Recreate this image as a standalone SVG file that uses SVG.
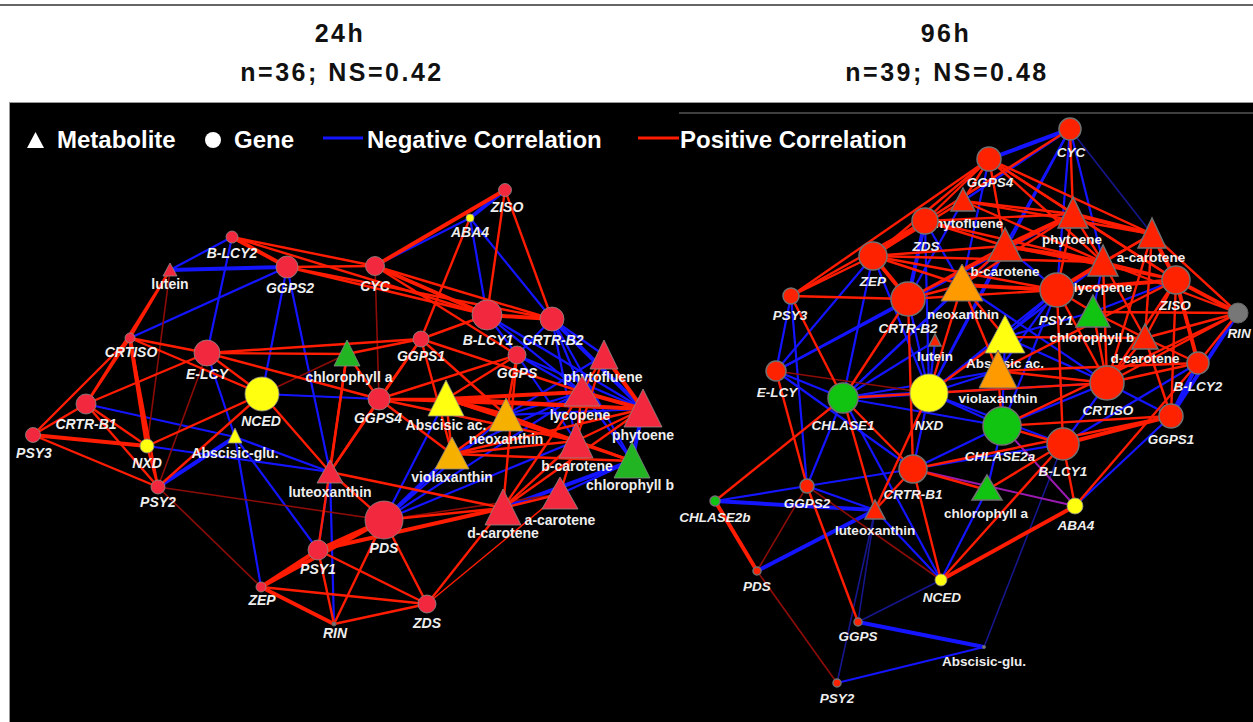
<svg xmlns="http://www.w3.org/2000/svg" width="1253" height="722" viewBox="0 0 1253 722">
<style>
.hd{font-family:"Liberation Sans",Arial,sans-serif;font-weight:bold;font-size:25px;fill:#111;text-anchor:middle}
.lgd{font-family:"Liberation Sans",Arial,sans-serif;font-weight:bold;font-size:24px;fill:#fff}
.p{stroke:#ff1c00;stroke-width:2.4;fill:none}
.pt{stroke:#ff1c00;stroke-width:4;fill:none}
.pw{stroke:#8c0c08;stroke-width:1.6;fill:none}
.n{stroke:#1414ff;stroke-width:2.2;fill:none}
.nt{stroke:#1414ff;stroke-width:4;fill:none}
.nw{stroke:#16168c;stroke-width:1.6;fill:none}
.pu{stroke:#9a1ab0;stroke-width:2;fill:none}
.lr{fill:#f2283e;stroke:#8a8a8a;stroke-width:0.8}
.rr{fill:#ff2200;stroke:#707070;stroke-width:1.5}
.ye{fill:#ffff10;stroke:#8a8a8a;stroke-width:0.8}
.or{fill:#f5b000;stroke:#8a8a8a;stroke-width:0.8}
.ror{fill:#ff9a00;stroke:#707070;stroke-width:1}
.gr{fill:#22b422;stroke:#8a8a8a;stroke-width:0.8}
.rgr{fill:#11c411;stroke:#707070;stroke-width:1.5}
.gy{fill:#777;stroke:#666;stroke-width:1}
text.g{font-family:"Liberation Sans",Arial,sans-serif;font-weight:bold;font-style:italic;font-size:14px;fill:#eee;text-anchor:middle}
text.m{font-family:"Liberation Sans",Arial,sans-serif;font-weight:bold;font-size:14px;fill:#eee;text-anchor:middle}
text.rg{font-family:"Liberation Sans",Arial,sans-serif;font-weight:bold;font-style:italic;font-size:13.5px;fill:#eee;text-anchor:middle}
text.rm{font-family:"Liberation Sans",Arial,sans-serif;font-weight:bold;font-size:13.5px;fill:#eee;text-anchor:middle}
</style>
<rect x="0" y="0" width="1253" height="722" fill="#fff"/>
<line x1="0" y1="5" x2="1253" y2="5" stroke="#333" stroke-width="1.5"/>
<g id="header">
<text class="hd" x="340" y="42" letter-spacing="2.5">24h</text>
<text class="hd" x="342" y="81" letter-spacing="2.5">n=36; NS=0.42</text>
<text class="hd" x="946" y="42" letter-spacing="2.5">96h</text>
<text class="hd" x="947" y="81" letter-spacing="2.5">n=39; NS=0.48</text>
</g>
<rect x="9.5" y="102.5" width="1250" height="625" fill="#000" stroke="#999" stroke-width="1"/>
<line x1="679" y1="113" x2="1253" y2="113" stroke="#555" stroke-width="1.5"/>
<g id="legend">
<polygon points="35.5,132 27,148 44,148" fill="#fff"/>
<text class="lgd" x="57" y="148">Metabolite</text>
<circle cx="213" cy="140" r="8" fill="#fff"/>
<text class="lgd" x="234" y="148">Gene</text>
<line x1="323" y1="138" x2="363" y2="138" stroke="#1414ff" stroke-width="3"/>
<text class="lgd" x="367" y="148">Negative Correlation</text>
<line x1="638" y1="138" x2="679" y2="138" stroke="#ff1c00" stroke-width="3"/>
<text class="lgd" x="680" y="148">Positive Correlation</text>
</g>
<g id="connectors">
<g class="n">
<path d="M470 218L375 266"/><path d="M470 218L487 315"/><path d="M470 218L552 319"/><path d="M232 237L170 270"/><path d="M232 237L207 353"/><path d="M287 267L262 394"/><path d="M287 267L130 338"/><path d="M287 267L330 472"/><path d="M487 315L517 355"/><path d="M487 315L582 392"/><path d="M487 315L643 409"/><path d="M552 319L604 355"/><path d="M552 319L582 392"/><path d="M552 319L517 355"/><path d="M552 319L632 461"/><path d="M552 319L576 441"/><path d="M517 355L643 409"/><path d="M517 355L576 441"/><path d="M517 355L582 392"/><path d="M86 404L235 437"/><path d="M147 446L330 472"/><path d="M262 394L379 399"/><path d="M235 437L318 550"/><path d="M235 437L330 472"/><path d="M235 437L261 587"/><path d="M330 472L318 550"/><path d="M330 472L334 624"/><path d="M446 399L384 520"/><path d="M506 415L582 392"/><path d="M506 415L604 355"/><path d="M506 415L643 409"/><path d="M452 454L582 392"/><path d="M582 392L632 461"/><path d="M560 494L632 461"/><path d="M384 520L576 441"/><path d="M384 520L506 415"/><path d="M207 353L235 437"/><path d="M384 520L582 392"/>
<path d="M1070 129L963 201"/><path d="M1070 129L1103 262"/><path d="M1070 129L1005 246"/><path d="M1070 129L1057 290"/><path d="M1070 129L929 393"/><path d="M989 159L962 285"/><path d="M963 201L908 299"/><path d="M925 221L962 285"/><path d="M925 221L929 393"/><path d="M1073 214L776 371"/><path d="M1005 246L1057 290"/><path d="M1005 246L929 393"/><path d="M1005 246L843 398"/><path d="M1103 262L1093 312"/><path d="M1103 262L929 393"/><path d="M873 256L776 371"/><path d="M873 256L843 398"/><path d="M873 256L929 393"/><path d="M791 296L776 371"/><path d="M791 296L807 486"/><path d="M908 299L929 393"/><path d="M908 299L776 371"/><path d="M962 285L843 398"/><path d="M962 285L1107 383"/><path d="M1057 290L1005 337"/><path d="M1057 290L929 393"/><path d="M1057 290L1002 426"/><path d="M1057 290L998 371"/><path d="M1093 312L1176 280"/><path d="M1093 312L1005 337"/><path d="M1198 363L1063 444"/><path d="M1107 383L1005 337"/><path d="M1107 383L1002 426"/><path d="M1107 383L1063 444"/><path d="M1107 383L1171 416"/><path d="M1107 383L929 393"/><path d="M1171 416L1075 506"/><path d="M1063 444L913 469"/><path d="M1002 426L929 393"/><path d="M1002 426L1005 337"/><path d="M1002 426L913 469"/><path d="M1002 426L987 490"/><path d="M1002 426L843 398"/><path d="M929 393L913 469"/><path d="M929 393L998 371"/><path d="M929 393L935 341"/><path d="M929 393L1063 444"/><path d="M843 398L776 371"/><path d="M843 398L807 486"/><path d="M843 398L998 371"/><path d="M843 398L941 580"/><path d="M843 398L935 341"/><path d="M776 371L913 469"/><path d="M913 469L807 486"/><path d="M987 490L941 580"/><path d="M941 580L875 510"/><path d="M807 486L715 501"/><path d="M807 486L875 510"/><path d="M837 683L984 647"/>
</g>
<g class="nt">
<path d="M505 190L470 218"/><path d="M287 267L170 270"/><path d="M552 319L643 409"/><path d="M235 437L158 487"/><path d="M452 454L384 520"/><path d="M643 409L632 461"/><path d="M632 461L503 508"/>
<path d="M1070 129L989 159"/><path d="M925 221L908 299"/><path d="M929 393L843 398"/><path d="M1198 363L1171 416"/><path d="M1238 313L1171 416"/><path d="M757 571L875 510"/><path d="M858 622L984 647"/><path d="M715 501L875 510"/>
</g>
<g class="nw">
<path d="M1070 129L1152 234"/><path d="M1063 444L984 647"/><path d="M875 510L858 622"/><path d="M875 510L837 683"/><path d="M941 580L858 622"/>
</g>
<g class="pw">
<path d="M170 270L147 446"/><path d="M375 266L379 399"/><path d="M207 353L158 487"/><path d="M262 394L347 354"/><path d="M158 487L261 587"/><path d="M158 487L384 520"/><path d="M560 494L384 520"/>
<path d="M776 371L929 393"/><path d="M941 580L807 486"/><path d="M807 486L757 571"/><path d="M757 571L837 683"/>
</g>
<g class="pu">
<path d="M1002 426L1075 506"/><path d="M913 469L1075 506"/>
</g>
<g class="p">
<path d="M505 190L487 315"/><path d="M505 190L552 319"/><path d="M470 218L421 339"/><path d="M232 237L375 266"/><path d="M232 237L487 315"/><path d="M170 270L130 338"/><path d="M170 270L86 404"/><path d="M287 267L375 266"/><path d="M287 267L487 315"/><path d="M287 267L552 319"/><path d="M375 266L552 319"/><path d="M375 266L517 355"/><path d="M487 315L421 339"/><path d="M421 339L379 399"/><path d="M421 339L347 354"/><path d="M421 339L452 454"/><path d="M421 339L582 392"/><path d="M421 339L506 415"/><path d="M421 339L207 353"/><path d="M517 355L446 399"/><path d="M517 355L506 415"/><path d="M517 355L379 399"/><path d="M517 355L503 508"/><path d="M130 338L207 353"/><path d="M130 338L86 404"/><path d="M130 338L33 435"/><path d="M130 338L262 394"/><path d="M130 338L158 487"/><path d="M207 353L86 404"/><path d="M207 353L347 354"/><path d="M207 353L379 399"/><path d="M207 353L262 394"/><path d="M86 404L33 435"/><path d="M86 404L147 446"/><path d="M86 404L158 487"/><path d="M33 435L158 487"/><path d="M147 446L262 394"/><path d="M147 446L158 487"/><path d="M262 394L158 487"/><path d="M262 394L330 472"/><path d="M330 472L384 520"/><path d="M330 472L503 508"/><path d="M330 472L421 339"/><path d="M330 472L347 354"/><path d="M347 354L318 550"/><path d="M347 354L379 399"/><path d="M379 399L446 399"/><path d="M379 399L452 454"/><path d="M379 399L643 409"/><path d="M379 399L330 472"/><path d="M379 399L576 441"/><path d="M446 399L452 454"/><path d="M446 399L576 441"/><path d="M446 399L632 461"/><path d="M506 415L452 454"/><path d="M506 415L576 441"/><path d="M506 415L632 461"/><path d="M452 454L576 441"/><path d="M452 454L632 461"/><path d="M452 454L643 409"/><path d="M604 355L582 392"/><path d="M604 355L576 441"/><path d="M582 392L576 441"/><path d="M643 409L576 441"/><path d="M576 441L632 461"/><path d="M576 441L503 508"/><path d="M576 441L560 494"/><path d="M503 508L384 520"/><path d="M503 508L427 604"/><path d="M503 508L560 494"/><path d="M503 508L582 392"/><path d="M503 508L643 409"/><path d="M384 520L427 604"/><path d="M384 520L334 624"/><path d="M318 550L334 624"/><path d="M318 550L427 604"/><path d="M261 587L427 604"/><path d="M334 624L427 604"/><path d="M560 494L427 604" stroke-width="1.5"/>
<path d="M1070 129L1073 214"/><path d="M1070 129L925 221"/><path d="M989 159L963 201"/><path d="M989 159L925 221"/><path d="M989 159L1005 246"/><path d="M989 159L1073 214"/><path d="M989 159L1152 234"/><path d="M989 159L873 256"/><path d="M989 159L791 296"/><path d="M989 159L1103 262"/><path d="M989 159L1176 280"/><path d="M963 201L1073 214"/><path d="M963 201L873 256"/><path d="M963 201L1152 234"/><path d="M963 201L1103 262"/><path d="M925 221L1005 246"/><path d="M925 221L1103 262"/><path d="M925 221L791 296"/><path d="M925 221L1073 214"/><path d="M1073 214L1103 262"/><path d="M1073 214L1057 290"/><path d="M1073 214L1176 280"/><path d="M1073 214L962 285"/><path d="M1073 214L908 299"/><path d="M1005 246L873 256"/><path d="M1005 246L962 285"/><path d="M1005 246L908 299"/><path d="M1005 246L1176 280"/><path d="M1152 234L1238 313"/><path d="M1152 234L1145 338"/><path d="M1152 234L1057 290"/><path d="M1152 234L1107 383"/><path d="M1152 234L1103 262"/><path d="M1103 262L1176 280"/><path d="M1103 262L1107 383"/><path d="M1103 262L1145 338"/><path d="M1103 262L1238 313"/><path d="M873 256L791 296"/><path d="M873 256L962 285"/><path d="M873 256L1057 290"/><path d="M873 256L1103 262"/><path d="M791 296L908 299"/><path d="M791 296L843 398"/><path d="M908 299L843 398"/><path d="M908 299L1057 290"/><path d="M908 299L962 285"/><path d="M908 299L913 469"/><path d="M962 285L1005 337"/><path d="M962 285L998 371"/><path d="M962 285L929 393"/><path d="M1057 290L1093 312"/><path d="M1057 290L1107 383"/><path d="M1057 290L1063 444"/><path d="M1093 312L1107 383"/><path d="M1093 312L1145 338"/><path d="M1093 312L1238 313"/><path d="M1176 280L1145 338"/><path d="M1176 280L1107 383"/><path d="M1176 280L1171 416"/><path d="M1176 280L998 371"/><path d="M1238 313L1198 363"/><path d="M1238 313L1145 338"/><path d="M1238 313L1107 383"/><path d="M1238 313L1002 426"/><path d="M1145 338L1107 383"/><path d="M1145 338L1198 363"/><path d="M1145 338L1171 416"/><path d="M1145 338L1005 337"/><path d="M1198 363L1107 383"/><path d="M1198 363L1075 506"/><path d="M1198 363L998 371"/><path d="M1107 383L998 371"/><path d="M1107 383L843 398"/><path d="M1171 416L1002 426"/><path d="M1171 416L913 469"/><path d="M1063 444L1002 426"/><path d="M1063 444L1075 506"/><path d="M1063 444L941 580"/><path d="M1063 444L987 490"/><path d="M1002 426L998 371"/><path d="M929 393L1005 337"/><path d="M929 393L875 510"/><path d="M843 398L913 469"/><path d="M843 398L875 510"/><path d="M843 398L715 501"/><path d="M776 371L807 486"/><path d="M913 469L875 510"/><path d="M913 469L987 490"/><path d="M913 469L941 580"/><path d="M807 486L858 622"/>
</g>
<g class="pt">
<path d="M505 190L375 266"/><path d="M232 237L287 267"/><path d="M375 266L487 315"/><path d="M487 315L552 319"/><path d="M130 338L147 446"/><path d="M33 435L147 446"/><path d="M446 399L506 415"/><path d="M446 399L582 392"/><path d="M446 399L643 409"/><path d="M604 355L643 409"/><path d="M582 392L643 409"/><path d="M503 508L318 550"/><path d="M384 520L318 550"/><path d="M384 520L261 587"/><path d="M318 550L261 587"/><path d="M261 587L334 624"/>
<path d="M925 221L873 256"/><path d="M1073 214L1152 234"/><path d="M1073 214L1005 246"/><path d="M1005 246L1103 262"/><path d="M1152 234L1176 280"/><path d="M1103 262L1057 290"/><path d="M873 256L908 299"/><path d="M962 285L1057 290"/><path d="M1057 290L1176 280"/><path d="M1176 280L1238 313"/><path d="M1176 280L1198 363"/><path d="M1171 416L1063 444"/><path d="M941 580L1075 506"/><path d="M715 501L757 571"/>
</g>
</g>
<g id="L-ZISO"><circle class="lr" cx="505" cy="190" r="6.5"/><text class="g" x="507" y="212">ZISO</text></g>
<g id="L-ABA4"><circle class="ye" cx="470" cy="218" r="4"/><text class="g" x="470" y="237">ABA4</text></g>
<g id="L-B-LCY2"><circle class="lr" cx="232" cy="237" r="6"/><text class="g" x="232" y="258">B-LCY2</text></g>
<g id="L-GGPS2"><circle class="lr" cx="287" cy="267" r="11"/><text class="g" x="290" y="293">GGPS2</text></g>
<g id="L-lutein"><polygon class="lr" points="170,263 163,276 177,276"/><text class="m" x="170" y="289">lutein</text></g>
<g id="L-CYC"><circle class="lr" cx="375" cy="266" r="9.5"/><text class="g" x="375" y="291">CYC</text></g>
<g id="L-B-LCY1"><circle class="lr" cx="487" cy="315" r="15"/><text class="g" x="488" y="345">B-LCY1</text></g>
<g id="L-CRTR-B2"><circle class="lr" cx="552" cy="319" r="12"/><text class="g" x="553" y="345">CRTR-B2</text></g>
<g id="L-CRTISO"><circle class="lr" cx="130" cy="338" r="5"/><text class="g" x="131" y="357">CRTISO</text></g>
<g id="L-E-LCY"><circle class="lr" cx="207" cy="353" r="13"/><text class="g" x="207" y="379">E-LCY</text></g>
<g id="L-GGPS1"><circle class="lr" cx="421" cy="339" r="8"/><text class="g" x="421" y="361">GGPS1</text></g>
<g id="L-GGPS"><circle class="lr" cx="517" cy="355" r="9"/><text class="g" x="517" y="378">GGPS</text></g>
<g id="L-chlorophyll-a"><polygon class="gr" points="347,340 334,366 360,366"/><text class="m" x="349" y="382">chlorophyll a</text></g>
<g id="L-phytofluene"><polygon class="lr" points="604,340 590,369 618,369"/><text class="m" x="603" y="382">phytofluene</text></g>
<g id="L-lycopene"><polygon class="lr" points="582,376 564,406 600,406"/><text class="m" x="580" y="420">lycopene</text></g>
<g id="L-NCED"><circle class="ye" cx="262" cy="394" r="17"/><text class="g" x="261" y="426">NCED</text></g>
<g id="L-GGPS4"><circle class="lr" cx="379" cy="399" r="11"/><text class="g" x="378" y="423">GGPS4</text></g>
<g id="L-Abscisic-ac"><polygon class="ye" points="446,380 428,416 464,416"/><text class="m" x="446" y="430">Abscisic ac.</text></g>
<g id="L-neoxanthin"><polygon class="or" points="506,398 489,431 523,431"/><text class="m" x="506" y="444">neoxanthin</text></g>
<g id="L-phytoene"><polygon class="lr" points="643,389 624,427 662,427"/><text class="m" x="643" y="440">phytoene</text></g>
<g id="L-b-carotene"><polygon class="lr" points="576,423 559,458 593,458"/><text class="m" x="577" y="471">b-carotene</text></g>
<g id="L-chlorophyll-b"><polygon class="gr" points="632,442 614,478 650,478"/><text class="m" x="630" y="490">chlorophyll b</text></g>
<g id="L-violaxanthin"><polygon class="or" points="452,437 435,469 469,469"/><text class="m" x="452" y="482">violaxanthin</text></g>
<g id="L-luteoxanthin"><polygon class="lr" points="330,460 317,483 343,483"/><text class="m" x="330" y="497">luteoxanthin</text></g>
<g id="L-Abscisic-glu"><polygon class="ye" points="235,428 228,443 242,443"/><text class="m" x="235" y="458">Abscisic-glu.</text></g>
<g id="L-NXD"><circle class="ye" cx="147" cy="446" r="7"/><text class="g" x="147" y="468">NXD</text></g>
<g id="L-CRTR-B1"><circle class="lr" cx="86" cy="404" r="10"/><text class="g" x="86" y="429">CRTR-B1</text></g>
<g id="L-PSY3"><circle class="lr" cx="33" cy="435" r="7.5"/><text class="g" x="34" y="458">PSY3</text></g>
<g id="L-PSY2"><circle class="lr" cx="158" cy="487" r="7"/><text class="g" x="158" y="507">PSY2</text></g>
<g id="L-a-carotene"><polygon class="lr" points="560,477 542,509 578,509"/><text class="m" x="560" y="525">a-carotene</text></g>
<g id="L-d-carotene"><polygon class="lr" points="503,489 485,525 521,525"/><text class="m" x="503" y="538">d-carotene</text></g>
<g id="L-PDS"><circle class="lr" cx="384" cy="520" r="19"/><text class="g" x="384" y="553">PDS</text></g>
<g id="L-PSY1"><circle class="lr" cx="318" cy="550" r="10"/><text class="g" x="318" y="574">PSY1</text></g>
<g id="L-ZEP"><circle class="lr" cx="261" cy="587" r="5"/><text class="g" x="262" y="605">ZEP</text></g>
<g id="L-RIN"><circle class="gy" cx="334" cy="624" r="2"/><text class="g" x="335" y="638">RIN</text></g>
<g id="L-ZDS"><circle class="lr" cx="427" cy="604" r="9"/><text class="g" x="427" y="628">ZDS</text></g>

<g id="R-CYC"><circle class="rr" cx="1070" cy="129" r="11"/><text class="rg" x="1071" y="157">CYC</text></g>
<g id="R-GGPS4"><circle class="rr" cx="989" cy="159" r="12"/><text class="rg" x="990" y="187">GGPS4</text></g>
<g id="R-phytofluene"><polygon class="rr" points="963,188 951,211 975,211"/><text class="rm" x="965" y="228">phytofluene</text></g>
<g id="R-ZDS"><circle class="rr" cx="925" cy="221" r="13"/><text class="rg" x="926" y="251">ZDS</text></g>
<g id="R-phytoene"><polygon class="rr" points="1073,197 1058,228 1088,228"/><text class="rm" x="1072" y="244">phytoene</text></g>
<g id="R-a-carotene"><polygon class="rr" points="1152,218 1138,248 1166,248"/><text class="rm" x="1151" y="262">a-carotene</text></g>
<g id="R-b-carotene"><polygon class="rr" points="1005,228 988,261 1022,261"/><text class="rm" x="1005" y="276">b-carotene</text></g>
<g id="R-lycopene"><polygon class="rr" points="1103,245 1088,276 1118,276"/><text class="rm" x="1103" y="292">lycopene</text></g>
<g id="R-ZEP"><circle class="rr" cx="873" cy="256" r="14"/><text class="rg" x="873" y="286">ZEP</text></g>
<g id="R-PSY3"><circle class="rr" cx="791" cy="296" r="8"/><text class="rg" x="790" y="320">PSY3</text></g>
<g id="R-neoxanthin"><polygon class="ror" points="962,264 941,301 983,301"/><text class="rm" x="963" y="319">neoxanthin</text></g>
<g id="R-CRTR-B2"><circle class="rr" cx="908" cy="299" r="17"/><text class="rg" x="908" y="333">CRTR-B2</text></g>
<g id="R-PSY1"><circle class="rr" cx="1057" cy="290" r="17"/><text class="rg" x="1056" y="325">PSY1</text></g>
<g id="R-chlorophyll-b"><polygon class="rgr" points="1093,295 1076,327 1110,327"/><text class="rm" x="1092" y="342">chlorophyll b</text></g>
<g id="R-ZISO"><circle class="rr" cx="1176" cy="280" r="14"/><text class="rg" x="1175" y="310">ZISO</text></g>
<g id="R-RIN"><circle class="gy" cx="1238" cy="313" r="10"/><text class="rg" x="1239" y="338">RIN</text></g>
<g id="R-d-carotene"><polygon class="rr" points="1145,324 1132,349 1158,349"/><text class="rm" x="1145" y="363">d-carotene</text></g>
<g id="R-lutein"><polygon class="rr" points="935,334 929,346 941,346"/><text class="rm" x="935" y="361">lutein</text></g>
<g id="R-Abscisic-ac"><polygon class="ye" points="1005,315 985,353 1025,353"/><text class="rm" x="1005" y="368">Abscisic ac.</text></g>
<g id="R-violaxanthin"><polygon class="ror" points="998,350 979,388 1017,388"/><text class="rm" x="998" y="403">violaxanthin</text></g>
<g id="R-B-LCY2"><circle class="rr" cx="1198" cy="363" r="11"/><text class="rg" x="1198" y="391">B-LCY2</text></g>
<g id="R-E-LCY"><circle class="rr" cx="776" cy="371" r="10"/><text class="rg" x="777" y="397">E-LCY</text></g>
<g id="R-CHLASE1"><circle class="rgr" cx="843" cy="398" r="15"/><text class="rg" x="843" y="430">CHLASE1</text></g>
<g id="R-NXD"><circle class="ye" cx="929" cy="393" r="19"/><text class="rg" x="929" y="430">NXD</text></g>
<g id="R-CRTISO"><circle class="rr" cx="1107" cy="383" r="17"/><text class="rg" x="1108" y="415">CRTISO</text></g>
<g id="R-CHLASE2a"><circle class="rgr" cx="1002" cy="426" r="19"/><text class="rg" x="1000" y="461">CHLASE2a</text></g>
<g id="R-GGPS1"><circle class="rr" cx="1171" cy="416" r="12"/><text class="rg" x="1171" y="444">GGPS1</text></g>
<g id="R-B-LCY1"><circle class="rr" cx="1063" cy="444" r="16"/><text class="rg" x="1063" y="476">B-LCY1</text></g>
<g id="R-CRTR-B1"><circle class="rr" cx="913" cy="469" r="14"/><text class="rg" x="913" y="499">CRTR-B1</text></g>
<g id="R-chlorophyll-a"><polygon class="rgr" points="987,475 972,500 1002,500"/><text class="rm" x="986" y="518">chlorophyll a</text></g>
<g id="R-ABA4"><circle class="ye" cx="1075" cy="506" r="8"/><text class="rg" x="1076" y="530">ABA4</text></g>
<g id="R-GGPS2"><circle class="rr" cx="807" cy="486" r="7"/><text class="rg" x="807" y="508">GGPS2</text></g>
<g id="R-CHLASE2b"><circle class="rgr" cx="715" cy="501" r="5"/><text class="rg" x="715" y="522">CHLASE2b</text></g>
<g id="R-luteoxanthin"><polygon class="rr" points="875,500 865,519 885,519"/><text class="rm" x="875" y="535">luteoxanthin</text></g>
<g id="R-PDS"><circle class="rr" cx="757" cy="571" r="4"/><text class="rg" x="757" y="591">PDS</text></g>
<g id="R-NCED"><circle class="ye" cx="941" cy="580" r="6"/><text class="rg" x="942" y="602">NCED</text></g>
<g id="R-GGPS"><circle class="rr" cx="858" cy="622" r="4"/><text class="rg" x="858" y="641">GGPS</text></g>
<g id="R-Abscisic-glu"><circle class="gy" cx="984" cy="647" r="1.5"/><text class="rm" x="984" y="666">Abscisic-glu.</text></g>
<g id="R-PSY2"><circle class="rr" cx="837" cy="683" r="4"/><text class="rg" x="837" y="703">PSY2</text></g>
</svg>
